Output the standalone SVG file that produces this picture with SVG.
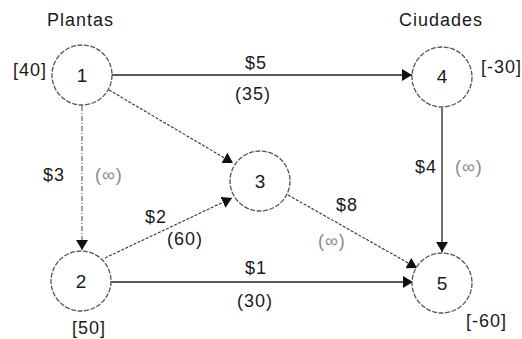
<svg xmlns="http://www.w3.org/2000/svg" width="522" height="339" viewBox="0 0 522 339">
<style>
  text { font-family: "Liberation Sans", Arial, sans-serif; font-size: 18px; fill: #1a1a1a; letter-spacing: 1px; }
  .num { font-size: 19px; text-anchor: middle; letter-spacing: 0; }
  .inf { fill: #8a8a8a; }
  .node circle { fill: #fff; stroke: #555; stroke-width: 1.3; stroke-dasharray: 5 1.5; }
  .edge { fill: none; stroke: #222; stroke-width: 1.3; }
  .dash { stroke: #333; stroke-dasharray: 3 1.5; stroke-width: 1.1; }
  .dashdot { stroke: #555; stroke-dasharray: 5 2 1 2; stroke-width: 1.1; }
</style>
<defs>
  <marker id="arr" viewBox="0 0 10 12" refX="10" refY="6" markerWidth="10" markerHeight="12" markerUnits="userSpaceOnUse" orient="auto">
    <path d="M0,0 L10,6 L0,12 Z" fill="#111"/>
  </marker>
</defs>
<rect width="522" height="339" fill="#fff"/>
<text x="47" y="26">Plantas</text>
<text x="399" y="26">Ciudades</text>

<g id="connectors">
  <line class="edge" x1="112" y1="75" x2="412" y2="75" marker-end="url(#arr)"/>
  <line class="edge dash" x1="109" y1="90" x2="233" y2="163" marker-end="url(#arr)"/>
  <line class="edge dashdot" x1="82" y1="106" x2="82" y2="250" marker-end="url(#arr)"/>
  <line class="edge dash" x1="105" y1="258" x2="232" y2="198" marker-end="url(#arr)"/>
  <line class="edge dash" x1="288" y1="195" x2="417" y2="268" marker-end="url(#arr)"/>
  <line class="edge" x1="111" y1="282" x2="413" y2="282" marker-end="url(#arr)"/>
  <line class="edge" x1="442" y1="108" x2="442" y2="252" marker-end="url(#arr)"/>
  <text x="245" y="69">$5</text>
  <text x="235" y="100">(35)</text>
  <text x="43" y="181">$3</text>
  <text class="inf" x="95" y="181">(∞)</text>
  <text x="145" y="223">$2</text>
  <text x="167" y="245">(60)</text>
  <text x="336" y="211">$8</text>
  <text class="inf" x="318" y="247">(∞)</text>
  <text x="245" y="274">$1</text>
  <text x="237" y="307">(30)</text>
  <text x="415" y="173">$4</text>
  <text class="inf" x="455" y="173">(∞)</text>
</g>

<g id="node1" class="node">
  <circle cx="82" cy="75" r="30"/>
  <text class="num" x="82" y="82">1</text>
  <text x="13" y="76">[40]</text>
</g>
<g id="node2" class="node">
  <circle cx="81" cy="281" r="30"/>
  <text class="num" x="81" y="288">2</text>
  <text x="72" y="334">[50]</text>
</g>
<g id="node3" class="node">
  <circle cx="260" cy="181" r="30"/>
  <text class="num" x="260" y="188">3</text>
</g>
<g id="node4" class="node">
  <circle cx="442" cy="77" r="30"/>
  <text class="num" x="442" y="83">4</text>
  <text x="481" y="73">[-30]</text>
</g>
<g id="node5" class="node">
  <circle cx="442" cy="283" r="30"/>
  <text class="num" x="442" y="290">5</text>
  <text x="466" y="327">[-60]</text>
</g>
</svg>
